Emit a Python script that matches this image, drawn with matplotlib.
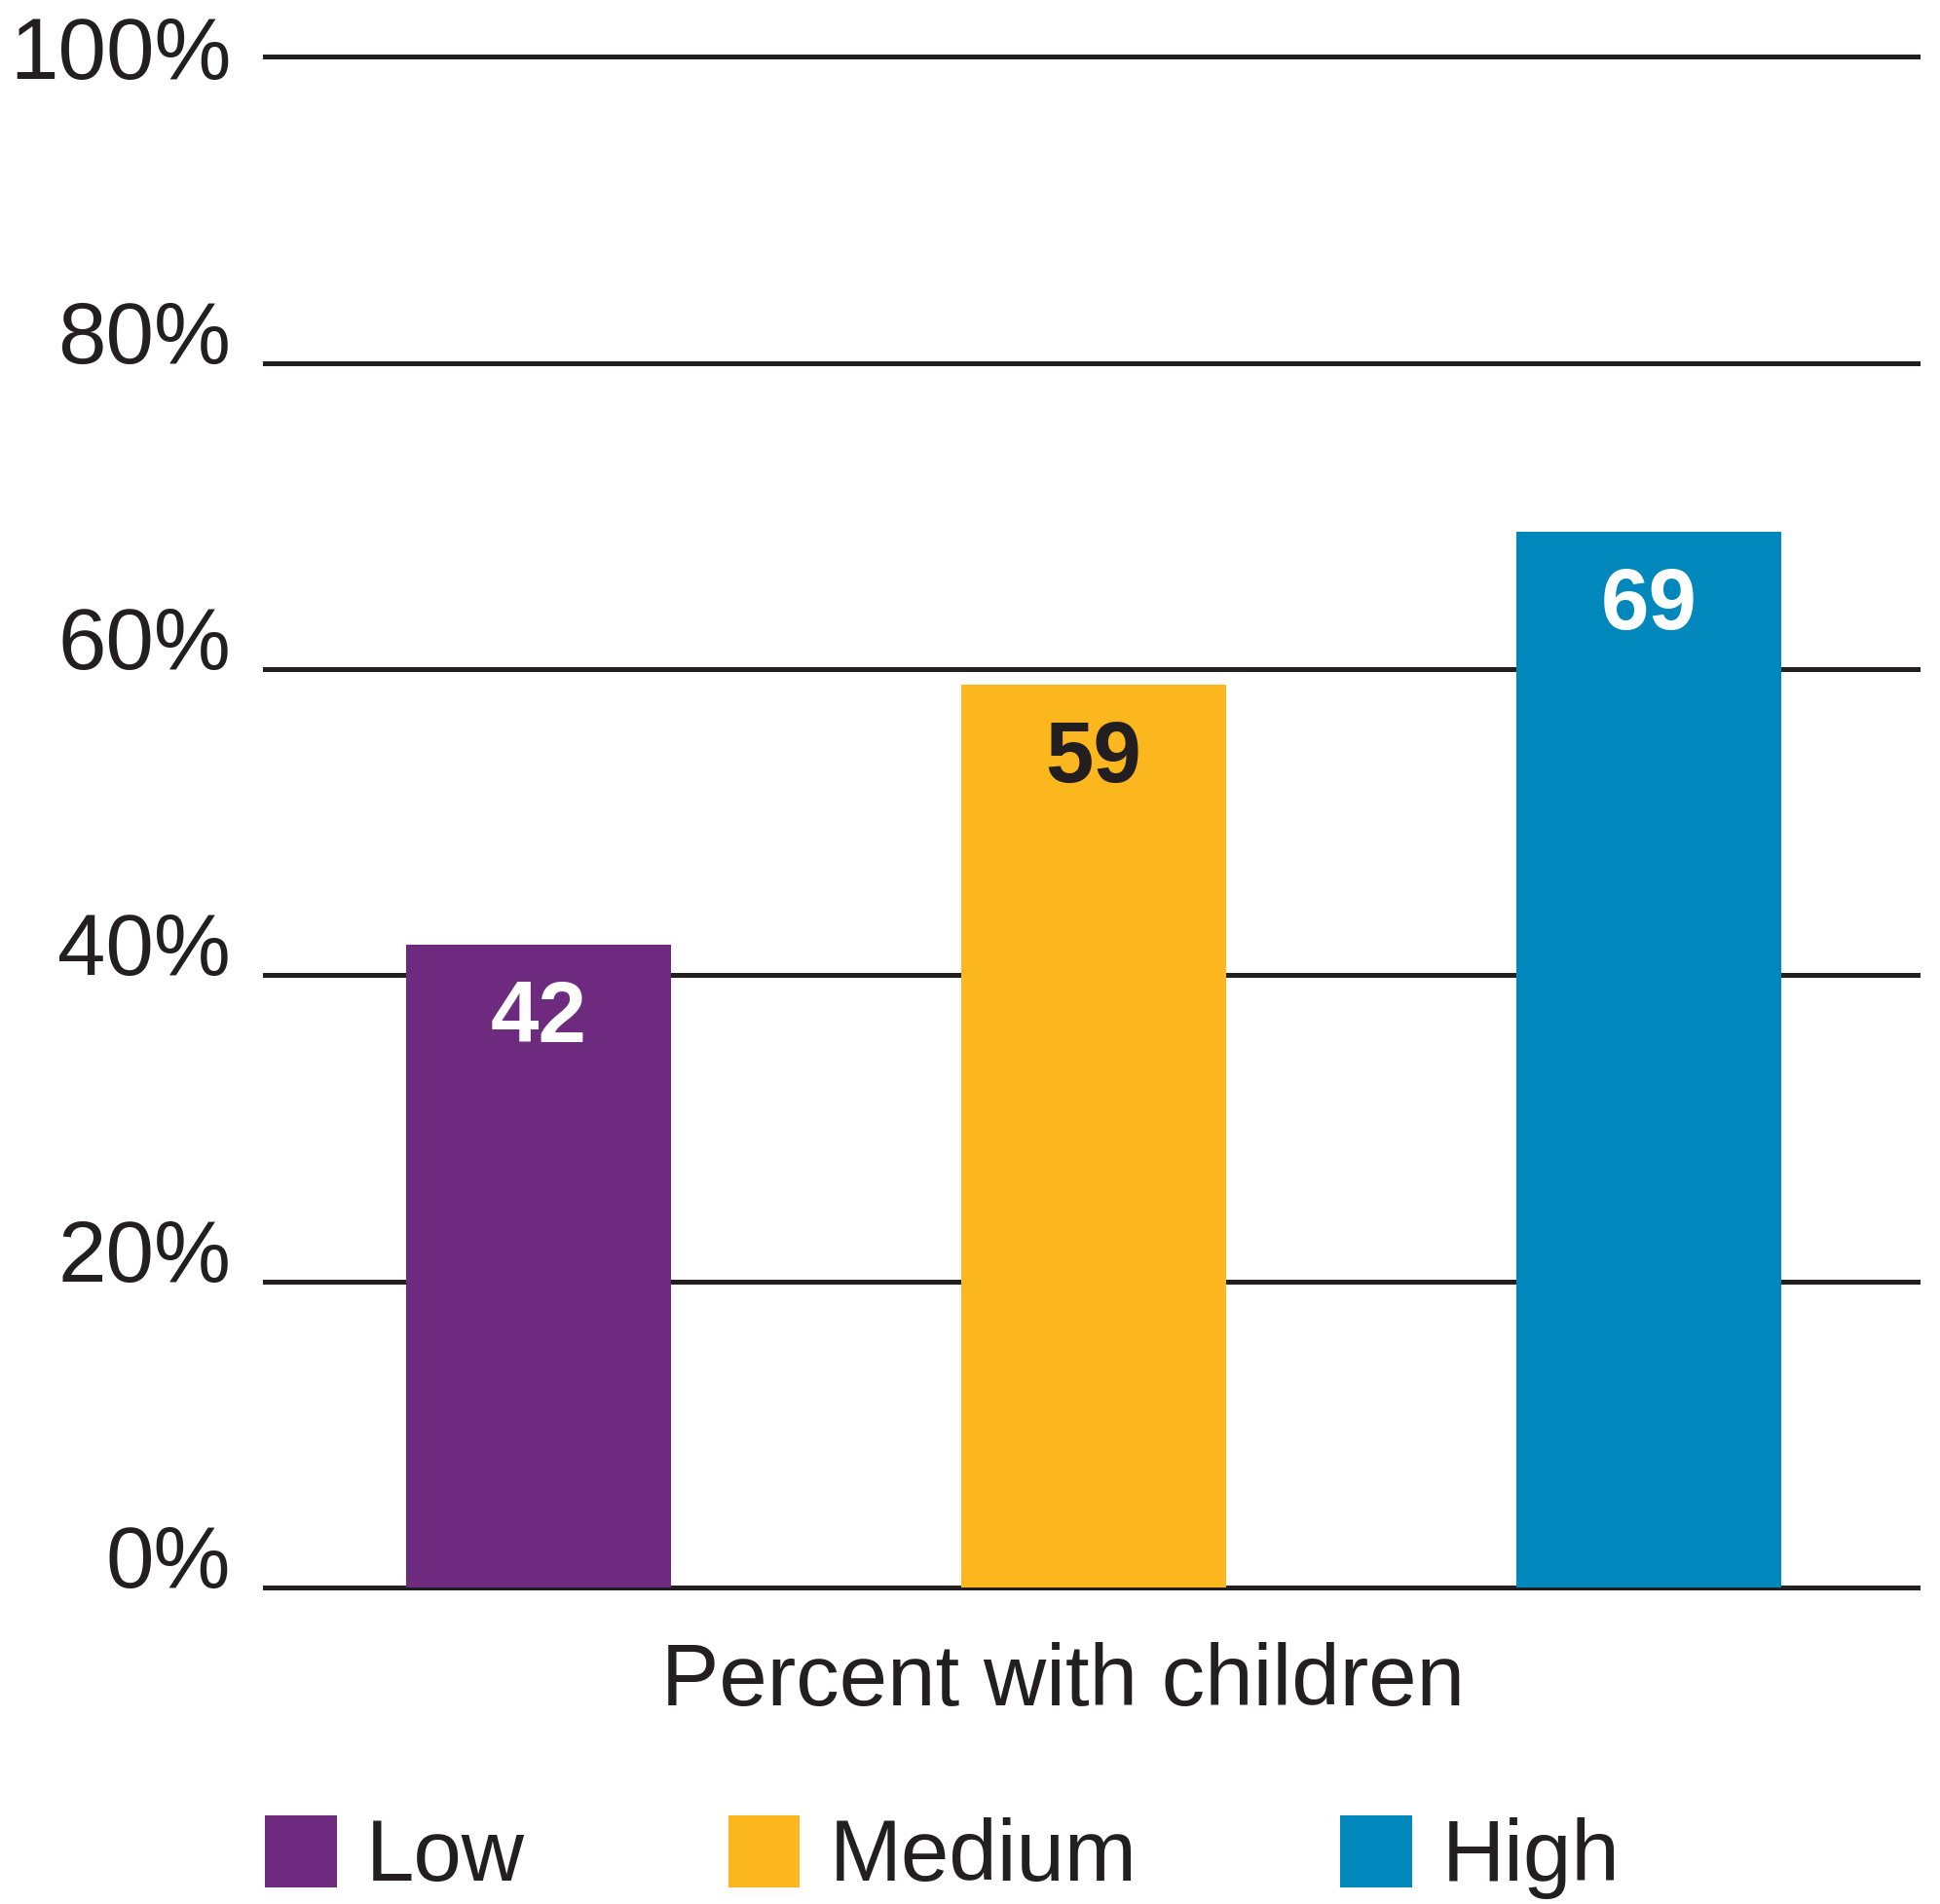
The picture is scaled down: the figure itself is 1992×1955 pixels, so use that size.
import matplotlib.pyplot as plt
from matplotlib.patches import Patch

# data
categories = ["Low", "Medium", "High"]
values = [42, 59, 69]
colors = ["#6E2A7E", "#FCB61E", "#0087BB"]
label_colors = ["white", "#231F20", "white"]
y_ticks = [0, 20, 40, 60, 80, 100]
y_tick_labels = ["0%", "20%", "40%", "60%", "80%", "100%"]
x_title = "Percent with children"

ink = "#231F20"
plt.rcParams["font.family"] = ["Liberation Sans", "DejaVu Sans"]

fig = plt.figure(figsize=(19.92, 19.55), dpi=100)
ax = fig.add_axes([0.1365, 0.1662, 0.852, 0.804])

x = list(range(len(categories)))
ax.bar(x, values, width=0.477, color=colors, zorder=3)

for yv in y_ticks:
    ax.axhline(yv, color=ink, linewidth=3.6, zorder=1, clip_on=False)

for xi, v, c in zip(x, values, label_colors):
    ax.text(xi, v - 4.9, f"{v}", ha="center", va="center", fontsize=64,
            fontweight="bold", color=c, zorder=4)

ax.set_xlim(-0.493, 2.484)
ax.set_ylim(0, 100)
ax.set_xticks([])
ax.set_yticks(y_ticks)
ax.set_yticklabels(y_tick_labels, fontsize=64, color=ink)
ax.tick_params(axis="y", length=0, pad=25)
# labels sit on their gridline, except the top one which is nudged down
for lbl in ax.get_yticklabels():
    lbl.set_va("center" if lbl.get_text() == "100%" else "baseline")
for s in ax.spines.values():
    s.set_visible(False)

ax.set_xlabel(x_title, fontsize=64, color=ink, va="baseline")
ax.xaxis.set_label_coords(0.483, -0.077)

handles = [Patch(facecolor=c, edgecolor="none") for c in colors]
fig.legend(handles, categories, loc="center left",
           bbox_to_anchor=(0.1365, 0.0245), ncol=3, frameon=False,
           fontsize=64, handlelength=0.83, handleheight=0.9,
           handletextpad=0.34, columnspacing=2.35, borderpad=0,
           borderaxespad=0, labelcolor=ink)

fig.savefig("out.png", dpi=100)
